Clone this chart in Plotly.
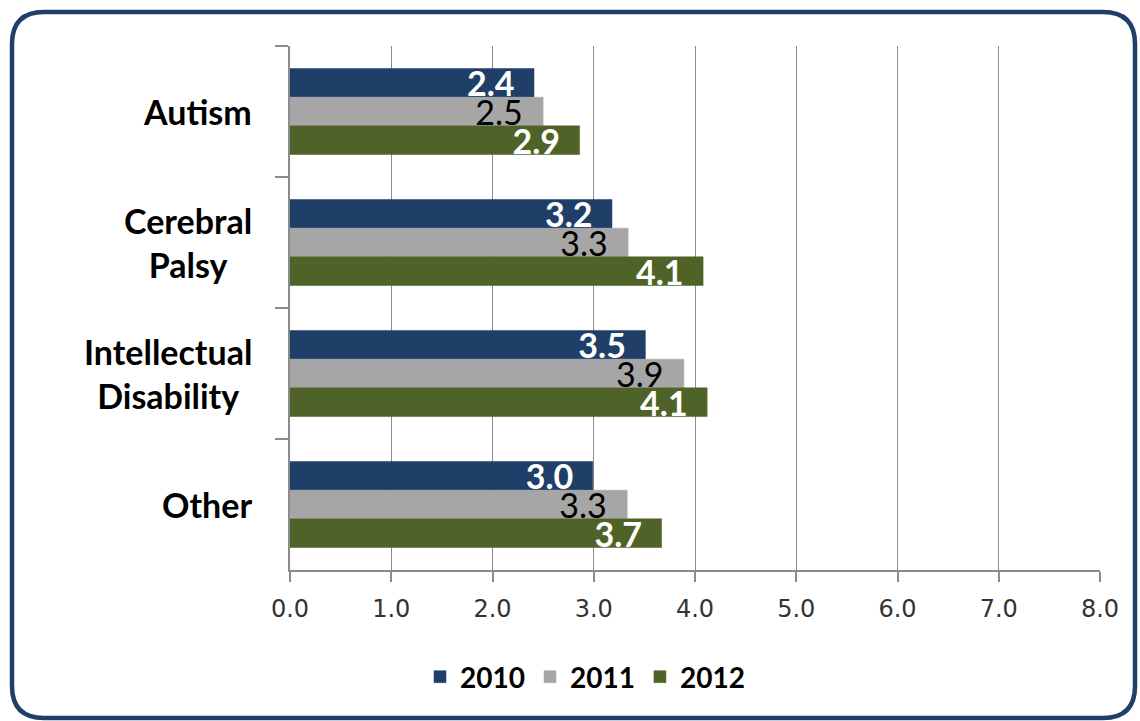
import plotly.graph_objects as go

categories = ["Autism", "Cerebral Palsy", "Intellectual Disability", "Other"]
category_labels = ["Autism", "Cerebral<br>Palsy", "Intellectual<br>Disability", "Other"]
years = ["2010", "2011", "2012"]
v2010 = [2.41, 3.18, 3.51, 2.99]
v2011 = [2.50, 3.34, 3.89, 3.33]
v2012 = [2.86, 4.08, 4.12, 3.67]
x_ticks = [0, 1, 2, 3, 4, 5, 6, 7, 8]
x_tick_labels = ["0.0", "1.0", "2.0", "3.0", "4.0", "5.0", "6.0", "7.0", "8.0"]

colors = ["#1F3F68", "#A6A6A6", "#4F6228"]
text_colors = ["white", "black", "white"]
text_weights = ["bold", "normal", "bold"]

W, H = 1140, 721
ML, MR, MT, MB = 290, 40, 46, 151
PW, PH = W - ML - MR, H - MT - MB


def px(xp):
    return (xp - ML) / PW


def py(yp):
    return (H - MB - yp) / PH


fig = go.Figure()
for name, vals, col, tcol, tw in zip(years, [v2010, v2011, v2012], colors, text_colors, text_weights):
    fig.add_trace(go.Bar(
        y=categories, x=vals, name=name, orientation="h",
        marker=dict(color=col, line=dict(color=col, width=0.5)),
        texttemplate="%{x:.1f}\u00a0\u00a0",
        textposition="inside", insidetextanchor="end", textangle=0,
        textfont=dict(family="Lato", size=34, color=tcol, weight=tw),
        hoverinfo="skip",
    ))

# rounded frame
x0, x1 = px(12), px(1135)
y0, y1 = py(12), py(718)
rx, ry = 32 / PW, 32 / PH
path = (f"M {x0+rx},{y0} L {x1-rx},{y0} Q {x1},{y0} {x1},{y0-ry} "
        f"L {x1},{y1+ry} Q {x1},{y1} {x1-rx},{y1} "
        f"L {x0+rx},{y1} Q {x0},{y1} {x0},{y1+ry} "
        f"L {x0},{y0-ry} Q {x0},{y0} {x0+rx},{y0} Z")
fig.add_shape(type="path", path=path, xref="paper", yref="paper",
              line=dict(color="#1F3F68", width=4.5), layer="below")

for cat, lab in zip(categories, category_labels):
    fig.add_annotation(x=px(254), xref="paper", y=cat, yref="y", text=lab,
                       xanchor="right", yanchor="middle", align="center", showarrow=False,
                       font=dict(family="Lato", size=34, color="black", weight="bold"))

fig.update_layout(
    width=W, height=H,
    margin=dict(l=ML, r=MR, t=MT, b=MB),
    paper_bgcolor="white", plot_bgcolor="white",
    barmode="group", bargap=0.343, bargroupgap=0.0,
    uniformtext=dict(minsize=34, mode="show"),
    legend=dict(orientation="h", x=px(585), xanchor="center", y=py(677), yanchor="middle",
                font=dict(family="Lato", size=28, color="black", weight="bold"),
                traceorder="normal", itemwidth=30),
    xaxis=dict(range=[0, 8], tickvals=x_ticks, ticktext=x_tick_labels,
               showgrid=True, gridcolor="#8C8C8C", gridwidth=1,
               showline=True, linecolor="#8C8C8C", linewidth=1.5,
               ticks="outside", ticklen=10, tickcolor="#8C8C8C", tickwidth=1.5,
               ticklabelstandoff=6,
               tickfont=dict(family="DejaVu Sans", size=24, color="#333333"), zeroline=False,
               fixedrange=True),
    yaxis=dict(categoryorder="array", categoryarray=categories, autorange="reversed",
               showline=True, linecolor="#8C8C8C", linewidth=1.5,
               ticks="outside", tickson="boundaries", ticklen=13, tickcolor="#8C8C8C", tickwidth=1.5,
               showticklabels=False, showgrid=False, fixedrange=True),
    showlegend=True,
)

fig.write_html("out.html", config={"displayModeBar": False},
               post_script="document.body.style.margin='0';document.body.style.overflow='hidden';")
